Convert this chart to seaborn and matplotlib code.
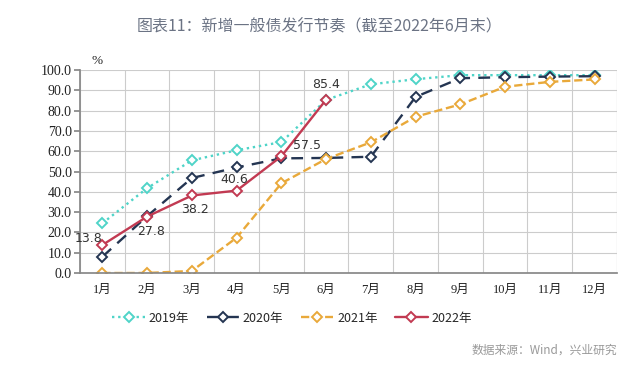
import numpy as np
import pandas as pd
import seaborn as sns
import matplotlib.pyplot as plt

months = ["1月", "2月", "3月", "4月", "5月", "6月", "7月", "8月", "9月", "10月", "11月", "12月"]
v2019 = [24.5, 41.8, 55.5, 60.5, 64.5, 85.3, 93.0, 95.5, 97.5, 97.5, 97.5, 97.5]
v2020 = [8.0, 28.0, 46.8, 52.0, 56.5, 56.7, 57.3, 86.8, 96.0, 96.5, 96.8, 97.0]
v2021 = [0.0, 0.0, 1.0, 17.4, 44.2, 56.2, 64.4, 77.0, 83.1, 91.8, 94.2, 95.4]
v2022 = [13.8, 27.8, 38.2, 40.6, 57.5, 85.4]
years = ["2019年", "2020年", "2021年", "2022年"]

rows = []
for yr, vals in zip(years, [v2019, v2020, v2021, v2022]):
    for i, v in enumerate(vals):
        rows.append({"月": i, "值": v, "年份": yr})
df = pd.DataFrame(rows)

sns.set_theme(style="white")
plt.rcParams["font.family"] = ["Noto Sans CJK SC", "DejaVu Sans"]

palette = {"2019年": "#4FD4C8", "2020年": "#243552", "2021年": "#E9A93A", "2022年": "#C23A52"}
dashes = {"2019年": (1, 1.6), "2020年": (5, 3.5), "2021年": (3.5, 1.6), "2022年": ""}
markers = {"2019年": "D", "2020年": "D", "2021年": "D", "2022年": "D"}

fig = plt.figure(figsize=(6.4, 3.81), dpi=100)
ax = fig.add_axes([0.125, 0.2835, 0.839, 0.5325])
sns.lineplot(data=df, x="月", y="值", hue="年份", style="年份", palette=palette,
             dashes=dashes, markers=markers, markersize=4.8,
             markeredgewidth=1.4, linewidth=1.7, ax=ax, legend=False)
for ln in ax.lines:
    ln.set_markerfacecolor("white")
    ln.set_markeredgecolor(ln.get_color())
data_lines = list(ax.lines[:4])

ax.set_xlim(-0.5, 11.5)
ax.set_ylim(0, 100)
ax.set_yticks(np.arange(0, 101, 10))
ax.set_yticklabels([f"{t:.1f}" for t in np.arange(0, 101, 10)],
                   family=["Liberation Serif"], fontsize=10, color="#222222")
ax.set_xticks(range(12))
ax.set_xticklabels(months, family=["Liberation Serif", "Noto Sans CJK SC"], fontsize=9, color="#222222")
ax.set_xticks(np.arange(-0.5, 12, 1), minor=True)
ax.tick_params(axis="x", which="major", length=0, pad=8)
ax.tick_params(axis="x", which="minor", length=4, color="#888888", direction="out")
ax.tick_params(axis="y", length=4, color="#888888", direction="out", left=True, pad=2)
ax.grid(True, axis="y", color="#cccccc", linewidth=0.8)
ax.grid(True, axis="x", which="minor", color="#cccccc", linewidth=0.8)
for side in ["top", "right"]:
    ax.spines[side].set_visible(False)
ax.spines["left"].set_color("#888888")
ax.spines["bottom"].set_color("#888888")
ax.axvline(11.5, color="#cccccc", linewidth=0.8)
ax.set_xlabel("")
ax.set_ylabel("")

ax.text(-0.25, 101.5, "%", family=["Liberation Serif"], fontsize=9.5, color="#222222", va="bottom")

offsets = [(-0.3, 3.0), (0.08, -7.5), (0.07, -6.7), (-0.05, 5.7), (0.58, 5.2), (0.0, 7.6)]
for i, v in enumerate(v2022):
    dx, dy = offsets[i]
    ax.text(i + dx, v + dy, f"{v:.1f}", ha="center", va="center", fontsize=9, color="#333333",
            family=["DejaVu Sans"])

ax.legend(data_lines, years, loc="upper center", bbox_to_anchor=(0.395, -0.135), ncol=4, frameon=False,
          fontsize=9, handlelength=2.6, columnspacing=1.4, handletextpad=0.3)

fig.text(0.5, 0.928, "图表11：新增一般债发行节奏（截至2022年6月末）", ha="center", va="center",
         fontsize=11.5, color="#6B7384")
fig.text(0.965, 0.082, "数据来源：Wind，兴业研究", ha="right", va="center", fontsize=8.5, color="#999999")

fig.savefig("out.png", dpi=100)
